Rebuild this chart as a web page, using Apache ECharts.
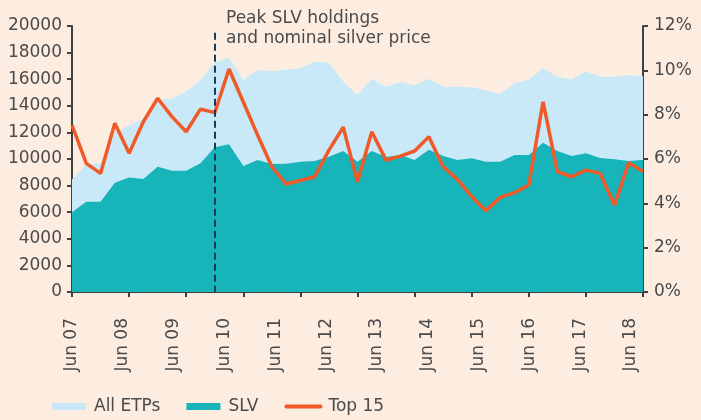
<!DOCTYPE html>
<html>
<head>
<meta charset="utf-8">
<script src="https://cdn.jsdelivr.net/npm/echarts@6/dist/echarts.min.js"></script>
<style>
  html, body { margin: 0; padding: 0; background: #fdede1; }
  #chart { width: 701px; height: 420px; }
</style>
</head>
<body>
<div id="chart"></div>
<script>
// quarterly observations (hidden axis), Jun 07 onwards
const periods = [
  'Q2 07','Q3 07','Q4 07','Q1 08','Q2 08','Q3 08','Q4 08','Q1 09','Q2 09','Q3 09',
  'Q4 09','Q1 10','Q2 10','Q3 10','Q4 10','Q1 11','Q2 11','Q3 11','Q4 11','Q1 12',
  'Q2 12','Q3 12','Q4 12','Q1 13','Q2 13','Q3 13','Q4 13','Q1 14','Q2 14','Q3 14',
  'Q4 14','Q1 15','Q2 15','Q3 15','Q4 15','Q1 16','Q2 16','Q3 16','Q4 16','Q1 17',
  'Q2 17'
];

const tickLabels = ['Jun 07','Jun 08','Jun 09','Jun 10','Jun 11','Jun 12',
                    'Jun 13','Jun 14','Jun 15','Jun 16','Jun 17','Jun 18'];

const allEtps = [8450, 9580, 9680, 12000, 12520, 13020, 14480, 14540, 15060, 15940,
                 17250, 17620, 15940, 16690, 16590, 16720, 16820, 17320, 17240, 15810,
                 14810, 16030, 15440, 15790, 15540, 16030, 15440, 15440, 15390, 15160,
                 14910, 15690, 15970, 16820, 16190, 15970, 16590, 16190, 16190, 16320,
                 16220];

const slv = [6000, 6790, 6790, 8220, 8600, 8500, 9420, 9120, 9120, 9680,
             10880, 11100, 9470, 9920, 9620, 9650, 9800, 9850, 10170, 10600,
             9800, 10600, 10150, 10300, 9930, 10700, 10230, 9930, 10050, 9800,
             9800, 10300, 10300, 11230, 10600, 10230, 10430, 10080, 9990, 9850,
             9930];

const top15 = [7.53, 5.80, 5.35, 7.61, 6.26, 7.68, 8.74, 7.91, 7.23, 8.25,
               8.09, 10.06, 8.57, 7.08, 5.65, 4.87, 5.03, 5.20, 6.40, 7.43,
               4.97, 7.23, 5.95, 6.13, 6.36, 7.00, 5.65, 5.08, 4.30, 3.67,
               4.27, 4.48, 4.83, 8.58, 5.43, 5.20, 5.50, 5.35, 3.92, 5.83,
               5.43];

const peakIndex = 10;

const FONT = 'DejaVu Sans';
const TXT = '#4a4a4a';
const AXIS = '#404040';

const chart = echarts.init(document.getElementById('chart'), null, { renderer: 'canvas' });

const axisLine = { show: true, lineStyle: { color: AXIS, width: 2 } };
const axisTick = { show: true, length: 5, lineStyle: { color: AXIS, width: 2 } };

chart.setOption({
  animation: false,
  backgroundColor: '#fdede1',
  textStyle: { fontFamily: FONT },
  grid: [
    { left: 72, right: 58, top: 26, bottom: 128 },
    // separate strip just for the date labels (they don't line up with the ticks)
    { left: 72, right: 70, top: 26, bottom: 128 },
  ],
  graphic: [{
    type: 'text',
    left: 226,
    top: 9,
    style: {
      text: 'Peak SLV holdings\nand nominal silver price',
      font: '17px "DejaVu Sans"',
      fill: TXT,
      lineHeight: 20,
    },
  }],
  legend: {
    left: 47,
    top: 393,
    itemWidth: 34,
    itemHeight: 7,
    itemGap: 26,
    textStyle: { fontFamily: FONT, fontSize: 17, color: TXT, padding: [0, 0, 0, 3] },
    data: [
      { name: 'All ETPs', icon: 'rect' },
      { name: 'SLV', icon: 'rect' },
      { name: 'Top 15', itemStyle: { opacity: 0 }, lineStyle: { width: 4, cap: 'round' } },
    ],
  },
  xAxis: [
    {
      type: 'category',
      gridIndex: 0,
      data: periods,
      boundaryGap: false,
      axisLine,
      axisTick: { ...axisTick, interval: 3 },
      axisLabel: { show: false },
      splitLine: { show: false },
    },
    {
      type: 'category',
      gridIndex: 1,
      data: tickLabels,
      boundaryGap: false,
      axisLine: { show: false },
      axisTick: { show: false },
      axisLabel: {
        rotate: 90,
        margin: 26,
        interval: 0,
        fontFamily: FONT,
        fontSize: 17,
        color: TXT,
      },
    },
  ],
  yAxis: [
    {
      type: 'value',
      gridIndex: 0,
      min: 0,
      max: 20000,
      interval: 2000,
      axisLine,
      axisTick,
      splitLine: { show: false },
      axisLabel: {
        margin: 10,
        formatter: (v) => String(v),
        fontFamily: FONT,
        fontSize: 17,
        color: TXT,
      },
    },
    {
      type: 'value',
      gridIndex: 0,
      position: 'right',
      min: 0,
      max: 12,
      interval: 2,
      axisLine,
      axisTick,
      splitLine: { show: false },
      axisLabel: { margin: 11, formatter: '{value}%', fontFamily: FONT, fontSize: 17, color: TXT },
    },
    { type: 'value', gridIndex: 1, show: false },
  ],
  series: [
    {
      name: 'All ETPs',
      type: 'line',
      data: allEtps,
      symbol: 'none',
      lineStyle: { width: 0 },
      itemStyle: { color: '#c9e9f8' },
      areaStyle: { color: '#c9e9f8', opacity: 1 },
    },
    {
      name: 'SLV',
      type: 'line',
      data: slv,
      symbol: 'none',
      lineStyle: { width: 0 },
      itemStyle: { color: '#17b4b9' },
      areaStyle: { color: '#17b4b9', opacity: 1 },
      markLine: {
        silent: true,
        symbol: ['none', 'none'],
        label: { show: false },
        lineStyle: { color: '#1d3a55', width: 2, type: [7, 4] },
        data: [[
          { coord: [peakIndex, 19500] },
          { coord: [peakIndex, 0] },
        ]],
      },
    },
    {
      name: 'Top 15',
      type: 'line',
      yAxisIndex: 1,
      data: top15,
      symbol: 'none',
      lineStyle: { color: '#f05a28', width: 3.5 },
      itemStyle: { color: '#f05a28' },
    },
  ],
});
</script>
</body>
</html>
